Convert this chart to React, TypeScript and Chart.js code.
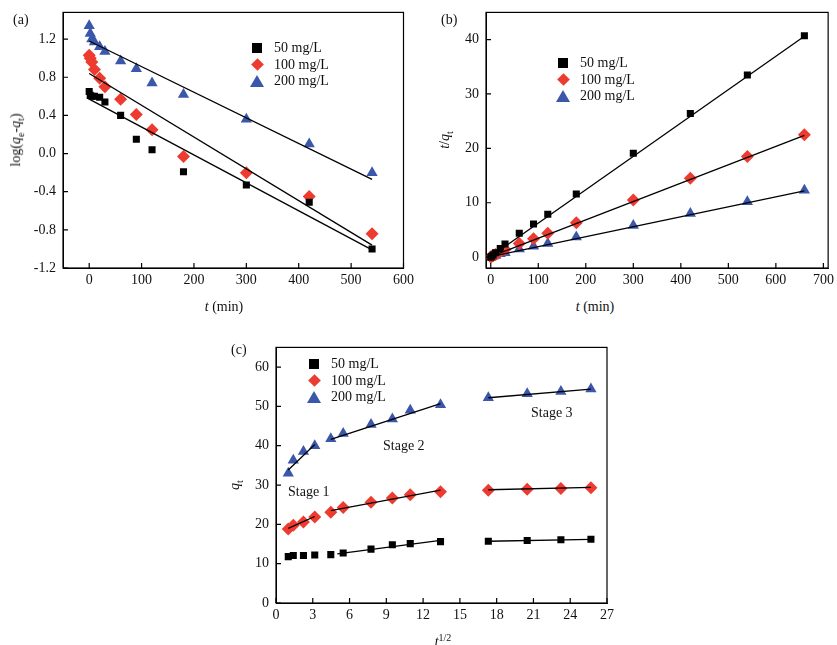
import React, { useEffect, useRef } from 'react';
import { Chart, registerables } from 'chart.js';

Chart.register(...registerables);

const FONT = '"Liberation Serif", "DejaVu Serif", serif';
const BLACK = '#000000';
const RED = '#ee3b2f';
const BLUE = '#3b57aa';
const seriesNames = ['50 mg/L', '100 mg/L', '200 mg/L'];
const colors = [BLACK, RED, BLUE];
const shapes = ['rect', 'rectRot', 'triangle'];

// (a) pseudo-first-order
const tA = [0, 2, 5, 10, 20, 30, 60, 90, 120, 180, 300, 420, 540];
const logA50 = [0.65, 0.61, 0.6, 0.6, 0.59, 0.54, 0.4, 0.15, 0.04, -0.19, -0.33, -0.51, -1.0];
const logA100 = [1.03, 1.0, 0.96, 0.88, 0.79, 0.7, 0.57, 0.41, 0.25, -0.03, -0.2, -0.45, -0.84];
const logA200 = [1.34, 1.26, 1.2, 1.17, 1.12, 1.07, 0.97, 0.89, 0.74, 0.62, 0.36, 0.1, -0.2];
const fitA = [
  [[0, 0.57], [540, -1.01]],
  [[0, 0.84], [540, -0.96]],
  [[0, 1.18], [540, -0.27]],
];
const xTicksA = [0, 100, 200, 300, 400, 500, 600];
const yTicksA = [-1.2, -0.8, -0.4, 0, 0.4, 0.8, 1.2];

// (b) pseudo-second-order
const tB = [0, 2, 5, 10, 20, 30, 60, 90, 120, 180, 300, 420, 540, 660];
const tqB50 = [0.0, 0.15, 0.4, 0.8, 1.6, 2.4, 4.4, 6.1, 7.9, 11.6, 19.1, 26.4, 33.5, 40.7];
const tqB100 = [0, 0.1, 0.25, 0.5, 1.0, 1.4, 2.5, 3.4, 4.4, 6.3, 10.5, 14.5, 18.5, 22.5];
const tqB200 = [0, 0.06, 0.15, 0.3, 0.6, 0.8, 1.5, 2.0, 2.5, 3.7, 5.8, 8.0, 10.2, 12.3];
const fitB = [
  [[0, 0.1], [660, 40.6]],
  [[0, 0.1], [660, 22.4]],
  [[0, 0.1], [660, 12.2]],
];
const xTicksB = [0, 100, 200, 300, 400, 500, 600, 700];
const yTicksB = [0, 10, 20, 30, 40];

// (c) intraparticle diffusion
const sqrtT = [1, 1.41, 2.24, 3.16, 4.47, 5.48, 7.75, 9.49, 10.95, 13.42, 17.32, 20.49, 23.24, 25.69];
const qC50 = [11.8, 12.1, 12.1, 12.2, 12.3, 12.7, 13.7, 14.8, 15.1, 15.6, 15.7, 15.9, 16.1, 16.2];
const qC100 = [18.8, 19.8, 20.6, 21.9, 23.1, 24.3, 25.6, 26.7, 27.5, 28.3, 28.7, 28.9, 29.1, 29.3];
const qC200 = [33.0, 36.3, 38.5, 40.0, 41.8, 43.1, 45.4, 46.8, 49.0, 50.4, 52.2, 53.2, 53.8, 54.4];
const fitC = [
  [[5.0, 12.5], [13.42, 15.9]], [[17.32, 15.7], [25.69, 16.2]],
  [[1, 19.0], [3.16, 22.0]], [[4.47, 23.5], [13.42, 28.7]], [[17.32, 28.8], [25.69, 29.4]],
  [[1, 33.8], [3.16, 40.3]], [[4.47, 41.6], [13.42, 50.7]], [[17.32, 52.2], [25.69, 54.4]],
];
const xTicksC = [0, 3, 6, 9, 12, 15, 18, 21, 24, 27];
const yTicksC = [0, 10, 20, 30, 40, 50, 60];

// box around the plot area with inward tick marks
const frame = {
  id: 'frame',
  afterDraw(chart: any) {
    const { ctx, chartArea: a } = chart;
    ctx.save();
    try {
      ctx.strokeStyle = '#000000';
      ctx.lineWidth = 1.2;
      ctx.strokeRect(a.left, a.top, a.right - a.left, a.bottom - a.top);
      const sx = chart.scales.x;
      const sy = chart.scales.y;
      ctx.beginPath();
      for (const t of sx.ticks) {
        const x = sx.getPixelForValue(t.value);
        ctx.moveTo(x, a.bottom);
        ctx.lineTo(x, a.bottom - 5);
      }
      for (const t of sy.ticks) {
        const y = sy.getPixelForValue(t.value);
        ctx.moveTo(a.left, y);
        ctx.lineTo(a.left + 5, y);
      }
      ctx.stroke();
    } catch (e: any) {
      ctx.fillStyle = '#f00';
      ctx.fillText('ERR ' + e.message, 80, 80);
    }
    ctx.restore();
  },
};

type PanelProps = {
  left: number; top: number; width: number; height: number;
  yw: number; xh: number;
  xs: number[]; ys: number[][]; fits: number[][][];
  xmin: number; xmax: number; ymin: number; ymax: number;
  xTicks: number[]; yTicks: number[]; yDigits: number;
};

const Panel: React.FC<PanelProps> = (p) => {
  const canvas = useRef<HTMLCanvasElement>(null!);
  useEffect(() => {
    const scatter = p.ys.map((vals, i) => ({
      type: 'scatter' as const,
      label: seriesNames[i],
      data: vals.map((v, j) => ({ x: p.xs[j], y: v })),
      pointStyle: shapes[i],
      pointRadius: i === 0 ? 5 : 6.5,
      backgroundColor: colors[i],
      borderColor: colors[i],
      borderWidth: 0,
      order: 1,
    }));
    const lines = p.fits.map((seg) => ({
      type: 'line' as const,
      data: seg.map(([x, y]) => ({ x, y })),
      borderColor: '#000',
      borderWidth: 1.3,
      pointRadius: 0,
      fill: false,
      order: 0,
    }));
    const tickFont = { family: FONT, size: 14 };
    const chart = new Chart(canvas.current, {
      type: 'scatter',
      data: { datasets: [...lines, ...scatter] as any },
      plugins: [frame],
      options: {
        animation: false,
        responsive: false,
        layout: { padding: { top: 1, right: 8, left: 0, bottom: 0 } },
        plugins: { legend: { display: false }, tooltip: { enabled: false } },
        scales: {
          x: {
            type: 'linear', min: p.xmin, max: p.xmax,
            afterFit: (s: any) => { s.height = p.xh; },
            afterBuildTicks: (s: any) => { s.ticks = p.xTicks.map((v) => ({ value: v })); },
            ticks: { font: tickFont, color: '#111', padding: 4, maxRotation: 0, autoSkip: false },
            grid: { display: true, drawOnChartArea: false, drawTicks: false, color: '#000' },
            border: { color: '#000' },
          },
          y: {
            type: 'linear', min: p.ymin, max: p.ymax,
            afterFit: (s: any) => { s.width = p.yw; },
            afterBuildTicks: (s: any) => { s.ticks = p.yTicks.map((v) => ({ value: v })); },
            ticks: {
              font: tickFont, color: '#111', padding: 7, autoSkip: false,
              callback: (v: any) => Number(v).toFixed(p.yDigits),
            },
            grid: { display: true, drawOnChartArea: false, drawTicks: false, color: '#000' },
            border: { color: '#000' },
          },
        },
      },
    });
    return () => chart.destroy();
  }, []);
  return (
    <div style={{ position: 'absolute', left: p.left, top: p.top, width: p.width, height: p.height }}>
      <canvas ref={canvas} width={p.width} height={p.height} style={{ width: p.width, height: p.height }} />
    </div>
  );
};

const Marker: React.FC<{ i: number }> = ({ i }) => {
  if (i === 0) return <span style={{ display: 'inline-block', width: 10, height: 10, background: BLACK }} />;
  if (i === 1) return <span style={{ display: 'inline-block', width: 9, height: 9, background: RED, transform: 'rotate(45deg)' }} />;
  return <span style={{ display: 'inline-block', width: 0, height: 0, borderLeft: '7px solid transparent', borderRight: '7px solid transparent', borderBottom: `12px solid ${BLUE}` }} />;
};

const Legend: React.FC<{ x: number; y: number }> = ({ x, y }) => (
  <>
    {seriesNames.map((n, i) => (
      <div key={n} style={{ position: 'absolute', left: x - 7, top: y + i * 16.5 - 8, height: 16, display: 'flex', alignItems: 'center' }}>
        <span style={{ width: 14, display: 'flex', justifyContent: 'center' }}><Marker i={i} /></span>
        <span style={{ marginLeft: 10, fontSize: 14 }}>{n}</span>
      </div>
    ))}
  </>
);

const T: React.FC<{ x: number; y: number; children: React.ReactNode; rot?: boolean; center?: boolean }> = ({ x, y, children, rot, center }) => (
  <div style={{
    position: 'absolute', left: x, top: y, fontSize: 14, whiteSpace: 'nowrap',
    transform: `translate(${center || rot ? '-50%' : '0'}, -50%)${rot ? ' rotate(-90deg)' : ''}`,
  }}>{children}</div>
);

const sub = { fontSize: 10 };

export default function App() {
  return (
    <div style={{ position: 'absolute', left: 0, top: 0, width: 837, height: 645, fontFamily: FONT, color: '#111', overflow: 'hidden' }}>
      <Panel left={15} top={-3} width={403} height={295} yw={48} xh={24}
        xs={tA} ys={[logA50, logA100, logA200]} fits={fitA}
        xmin={-50} xmax={600} ymin={-1.2} ymax={1.48} xTicks={xTicksA} yTicks={yTicksA} yDigits={1} />
      <Panel left={446} top={-3} width={392} height={295} yw={40} xh={24}
        xs={tB} ys={[tqB50, tqB100, tqB200]} fits={fitB}
        xmin={-10} xmax={710} ymin={-2} ymax={45} xTicks={xTicksB} yTicks={yTicksB} yDigits={0} />
      <Panel left={240} top={332} width={378} height={295} yw={36} xh={24}
        xs={sqrtT} ys={[qC50, qC100, qC200]} fits={fitC}
        xmin={0} xmax={27} ymin={0} ymax={65} xTicks={xTicksC} yTicks={yTicksC} yDigits={0} />

      <T x={13} y={20}>(a)</T>
      <T x={441} y={20}>(b)</T>
      <T x={231} y={350}>(c)</T>

      <T x={17} y={140} rot>log(<i>q</i><sub style={sub}>e</sub>-<i>q</i><sub style={sub}>t</sub>)</T>
      <T x={446} y={140} rot><i>t</i>/<i>q</i><sub style={sub}>t</sub></T>
      <T x={236} y={485} rot><i>q</i><sub style={sub}>t</sub></T>

      <T x={224} y={307} center><i>t</i> (min)</T>
      <T x={595} y={307} center><i>t</i> (min)</T>
      <T x={443} y={641} center><i>t</i><sup style={sub}>1/2</sup></T>

      <T x={288} y={492}>Stage 1</T>
      <T x={383} y={446}>Stage 2</T>
      <T x={531} y={413}>Stage 3</T>

      <Legend x={257} y={48} />
      <Legend x={563} y={63} />
      <Legend x={314} y={364} />
    </div>
  );
}
